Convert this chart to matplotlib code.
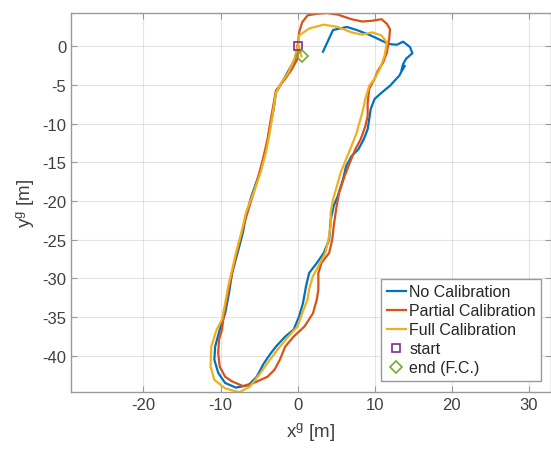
import matplotlib.pyplot as plt
import numpy as np

plt.rcParams['font.family'] = ['Liberation Sans', 'DejaVu Sans']
plt.rcParams['axes.unicode_minus'] = False

# trajectory points (x^g, y^g in metres)
no_cal_x = [0.0, -0.3, -1.2, -2.8, -3.1, -3.7, -4.1, -4.9, -6.0, -6.7, -7.1, -7.9, -8.5, -8.9,
            -9.4, -10.1, -10.7, -10.8, -10.3, -9.4, -8.0, -6.4, -5.3, -4.4, -3.5, -2.8, -1.6,
            -0.5, 0.2, 0.7, 1.1, 1.5, 2.5, 3.4, 4.1, 4.3, 4.7, 5.2, 5.9, 6.3, 7.0, 7.9, 8.6,
            9.1, 9.3, 9.5, 10.0, 10.9, 12.0, 13.2, 13.9, 13.5, 13.7, 14.1, 14.9, 14.6, 13.7,
            12.9, 11.8, 11.2, 9.5, 7.7, 6.4, 4.6, 3.3]
no_cal_y = [0.0, -1.6, -3.2, -6.0, -8.1, -11.1, -13.3, -16.3, -19.4, -21.9, -24.1, -27.1, -29.3,
            -31.9, -34.5, -36.6, -38.8, -40.5, -42.2, -43.5, -44.1, -43.8, -42.7, -41.0, -39.7,
            -38.8, -37.5, -36.6, -34.9, -33.2, -31.0, -29.3, -28.0, -26.7, -25.0, -22.4, -20.6,
            -19.4, -17.2, -15.5, -14.2, -13.3, -12.0, -10.7, -9.4, -8.1, -6.8, -6.0, -5.1, -3.8,
            -2.5, -3.1, -2.3, -1.6, -0.9, -0.1, 0.6, 0.2, 0.3, 0.6, 1.4, 2.1, 2.5, 2.1, -0.7]

partial_x = [0.0, 0.0, -0.7, -1.6, -2.8, -3.4, -3.9, -4.5, -5.3, -6.1, -6.9, -7.6, -8.2, -8.7,
             -9.2, -9.6, -9.8, -10.2, -10.3, -10.1, -9.4, -8.5, -7.1, -5.7, -3.9, -3.0, -2.3,
             -1.6, -0.5, 0.9, 2.0, 2.5, 2.7, 2.7, 3.1, 4.1, 4.5, 4.7, 5.0, 5.4, 6.1, 6.8, 7.5,
             8.2, 8.8, 9.1, 9.1, 9.3, 10.0, 10.4, 11.1, 11.6, 11.9, 12.0, 11.6, 10.9, 9.7, 8.4,
             7.0, 5.2, 3.8, 2.5, 1.3, 0.6, 0.2, 0.0]
partial_y = [0.0, -1.6, -2.9, -4.2, -5.7, -9.0, -12.0, -14.6, -17.6, -20.2, -22.8, -25.4, -28.0,
             -30.2, -32.7, -34.9, -36.6, -37.9, -39.7, -41.4, -42.7, -43.3, -43.9, -43.5, -42.7,
             -41.8, -40.5, -38.8, -37.5, -36.2, -34.5, -32.7, -31.4, -29.3, -28.0, -26.7, -25.0,
             -23.2, -21.1, -18.9, -16.8, -15.0, -13.3, -12.0, -10.3, -9.0, -7.3, -5.5, -4.2,
             -3.2, -2.1, -0.8, 1.0, 2.2, 2.9, 3.5, 3.3, 3.2, 3.5, 4.1, 4.3, 4.2, 4.0, 3.1, 1.8, 0.0]

full_x = [0.0, -0.4, -1.2, -2.1, -2.8, -3.2, -3.6, -4.1, -4.8, -5.7, -6.7, -7.3, -8.0, -8.5,
          -9.0, -9.4, -9.8, -10.5, -11.2, -11.3, -10.8, -9.4, -7.6, -6.2, -4.8, -3.9, -2.6,
          -1.2, 0.0, 0.6, 1.3, 1.5, 2.0, 2.7, 3.6, 4.0, 4.3, 4.3, 4.6, 5.1, 5.6, 6.3, 7.0, 7.7,
          7.9, 8.4, 8.8, 9.3, 10.0, 10.7, 11.3, 11.6, 10.9, 9.7, 8.4, 7.0, 5.2, 3.4, 1.5, 0.2,
          0.1, 0.5]
full_y = [0.0, -1.6, -3.4, -4.7, -6.0, -8.6, -11.1, -13.7, -16.3, -18.9, -21.5, -24.1, -26.7,
          -28.9, -31.0, -33.2, -35.3, -36.6, -38.8, -41.4, -43.1, -44.2, -44.7, -44.0, -42.2,
          -40.9, -39.2, -37.5, -36.2, -34.5, -32.7, -31.4, -29.7, -28.4, -26.7, -25.0, -23.2,
          -21.5, -19.8, -18.1, -16.3, -14.6, -12.9, -11.1, -10.3, -8.6, -6.8, -5.1, -4.2, -2.9,
          -1.2, 0.5, 1.4, 1.8, 1.5, 1.8, 2.5, 2.8, 2.3, 1.4, 0.3, -1.3]

start_pt = (0.0, 0.0)
end_pt = (0.55, -1.25)

fig = plt.figure(figsize=(5.51, 4.52), dpi=100)
ax = fig.add_axes([0.129, 0.13, 0.871, 0.839])

ax.plot(no_cal_x, no_cal_y, color='#0072BD', lw=1.6, label='No Calibration')
ax.plot(partial_x, partial_y, color='#D95319', lw=1.6, label='Partial Calibration')
ax.plot(full_x, full_y, color='#EDB120', lw=1.6, label='Full Calibration')
ax.plot(*start_pt, 's', color='#7E2F8E', mfc='none', ms=6, mew=1.2, ls='none', label='start')
ax.plot(*end_pt, 'D', color='#77AC30', mfc='none', ms=6, mew=1.2, ls='none', label='end (F.C.)')

ax.set_xlim(-29.4, 32.9)
ax.set_ylim(-44.7, 4.3)
ax.set_xticks([-20, -10, 0, 10, 20, 30])
ax.set_yticks(np.arange(-40, 1, 5))

ax.grid(True, color='#262626', alpha=0.12, lw=0.8)
ax.tick_params(direction='in', top=True, right=True, length=4, width=0.8,
               colors='#999999', labelcolor='#404040', labelsize=12)
for s in ax.spines.values():
    s.set_color('#999999')
    s.set_linewidth(1.0)

ax.set_xlabel('x$^\\mathregular{g}$ [m]', fontsize=13.5, color='#404040', labelpad=6)
ax.set_ylabel('y$^\\mathregular{g}$ [m]', fontsize=13.5, color='#404040', labelpad=4)

leg = ax.legend(loc='lower right', bbox_to_anchor=(0.98, 0.03), fontsize=11.5,
                handlelength=1.2, handletextpad=0.2, borderpad=0.35, labelspacing=0.25,
                fancybox=False, framealpha=1, edgecolor='#999999', borderaxespad=0)
for t in leg.get_texts():
    t.set_color('#262626')

fig.savefig('out.png', dpi=100)
